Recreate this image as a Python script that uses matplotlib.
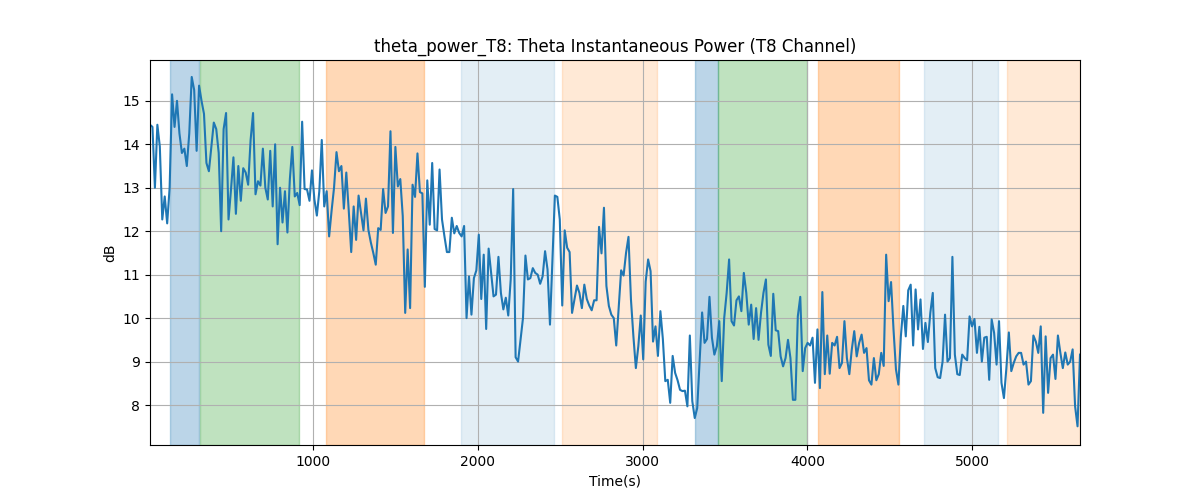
"""Theta instantaneous power for channel T8 with shaded task segments."""

import matplotlib

matplotlib.use("Agg")
import matplotlib.pyplot as plt
import numpy as np

T_START = 13
T_END = 5653

power_db = [
    14.45, 14.4, 13.0, 14.45, 13.95, 12.27, 12.8, 12.18, 13.0, 15.15,
    14.4, 15.0, 14.25, 13.8, 13.9, 13.5, 14.25, 15.55, 15.25, 13.85,
    15.35, 15.0, 14.7, 13.57, 13.38, 13.95, 14.5, 14.35, 13.8, 12.0,
    14.35, 14.72, 12.27, 12.95, 13.7, 12.4, 13.5, 12.7, 13.45, 13.35,
    13.07, 14.1, 14.72, 12.85, 13.15, 13.05, 13.9, 13.0, 12.73, 13.85,
    12.57, 14.0, 11.7, 13.0, 12.2, 12.92, 11.97, 13.2, 13.94, 12.8,
    12.88, 12.6, 14.52, 12.97, 12.96, 12.7,
    13.4, 12.73, 12.36, 12.92, 14.1, 12.57, 12.92, 11.88, 12.47, 13.0,
    13.82, 13.38, 13.5, 12.52, 13.35, 12.47, 11.52, 12.57, 11.8, 12.82,
    12.42, 12.02, 12.75, 12.03, 11.74, 11.5, 11.23, 12.07, 12.03, 12.97,
    12.42, 12.57, 14.3, 11.96, 13.94, 13.03, 13.2, 12.35, 10.12, 11.58,
    10.23, 13.07, 12.79, 13.79, 12.9, 12.87, 10.72, 13.17, 12.15, 13.57,
    12.05, 12.02, 13.42, 12.27, 11.88, 11.52, 11.52, 12.31, 11.95, 12.12,
    11.96, 11.88, 12.12, 10.0, 10.96, 10.08, 10.92, 11.1, 11.92, 10.44,
    11.46, 9.75, 11.6, 11.04, 10.5, 10.54, 11.41, 10.58, 10.2, 10.47,
    10.06, 10.89, 12.97, 9.1, 9.0, 9.5, 10.0, 11.44, 10.89, 10.92,
    11.15, 11.04, 11.0, 10.79, 10.96, 11.54, 11.12, 9.85, 11.35, 12.82,
    12.79, 12.27, 10.29, 12.02, 11.62, 11.52, 10.12, 10.43, 10.75, 10.58,
    10.23, 10.77, 10.44, 10.29, 10.18, 10.41, 10.41, 12.1, 11.49, 12.54,
    10.74, 10.28, 10.08, 10.0, 9.37, 10.23, 11.1, 10.98, 11.5, 11.87,
    10.43, 9.58, 8.85, 9.35, 10.06, 9.05, 10.84, 11.35, 11.08, 9.46,
    9.81, 9.13, 10.16, 9.52, 8.55, 8.58, 8.05, 9.13, 8.74, 8.57,
    8.35, 8.32, 8.33, 7.97, 9.6, 8.09, 7.7, 7.93, 9.04, 10.13,
    9.43, 9.52, 10.49, 9.55, 9.16, 9.35, 9.93, 8.55, 10.0, 10.58,
    11.35, 9.93, 9.83, 10.41, 10.5, 10.16, 11.04, 10.58, 9.85, 10.31,
    9.52, 10.23, 9.5, 10.12, 10.58, 10.89, 9.39, 9.13, 10.56, 9.72,
    9.7, 9.12, 8.89, 9.08, 9.5, 9.08, 8.12, 8.12, 10.04, 10.49,
    8.78, 9.31, 9.43, 9.37, 9.55, 8.51, 9.74, 8.39, 10.6, 8.71,
    9.6, 8.72, 9.43, 9.37, 9.57, 8.85, 8.97, 9.93, 9.08, 8.71,
    9.28, 9.7, 9.12, 9.43, 9.62, 9.2, 9.31, 8.57, 8.47, 9.08,
    8.57, 8.71, 9.2, 8.9, 11.46, 10.39, 10.83, 9.74, 8.82, 8.47,
    9.58, 10.28, 9.58, 10.64, 10.77, 9.37, 10.66, 9.74, 10.43, 9.29,
    9.89, 9.45, 10.12, 10.58, 8.85, 8.64, 8.62, 9.0, 10.08, 9.0,
    9.08, 11.41, 9.16, 8.71, 8.69, 9.16, 9.08, 9.03, 10.04, 9.81,
    9.98, 9.2, 9.8, 9.0, 9.55, 9.57, 8.58, 9.97, 9.66, 8.93,
    9.93, 8.51, 8.16, 8.85, 9.67, 8.78, 8.97, 9.12, 9.2, 9.2,
    8.93, 9.0, 8.47, 8.55, 9.6, 9.46, 9.2, 9.81, 7.82, 9.58,
    8.28, 9.08, 9.16, 8.6, 9.6, 9.2, 8.85, 9.21, 8.93, 9.0,
    9.28, 7.97, 7.51, 9.16,
]

span_starts = [132, 314, 1080, 1899, 2514, 3320, 3460, 4062, 4706, 5211]
span_ends = [308, 917, 1673, 2463, 3086, 3460, 4000, 4558, 5154, 5653]
span_colors = ["tab:blue", "tab:green", "tab:orange", "tab:blue", "tab:orange",
               "tab:blue", "tab:green", "tab:orange", "tab:blue", "tab:orange"]
span_alphas = [0.3, 0.3, 0.3, 0.12, 0.17, 0.3, 0.3, 0.3, 0.12, 0.17]


def main() -> None:
    values = np.array(power_db)
    times = np.linspace(T_START, T_END, len(values))

    fig, ax = plt.subplots(figsize=(12, 5), dpi=100)
    for start, end, color, alpha in zip(span_starts, span_ends, span_colors, span_alphas):
        ax.axvspan(start, end, color=color, alpha=alpha)

    ax.plot(times, values, color="tab:blue", linewidth=1.5)
    ax.set_xlim(times[0], times[-1])
    ax.set_ylim(7.08, 15.94)
    ax.grid(True)
    ax.set_title("theta_power_T8: Theta Instantaneous Power (T8 Channel)")
    ax.set_xlabel("Time(s)")
    ax.set_ylabel("dB")

    fig.savefig("out.png", dpi=100)
    plt.close(fig)


if __name__ == "__main__":
    main()
